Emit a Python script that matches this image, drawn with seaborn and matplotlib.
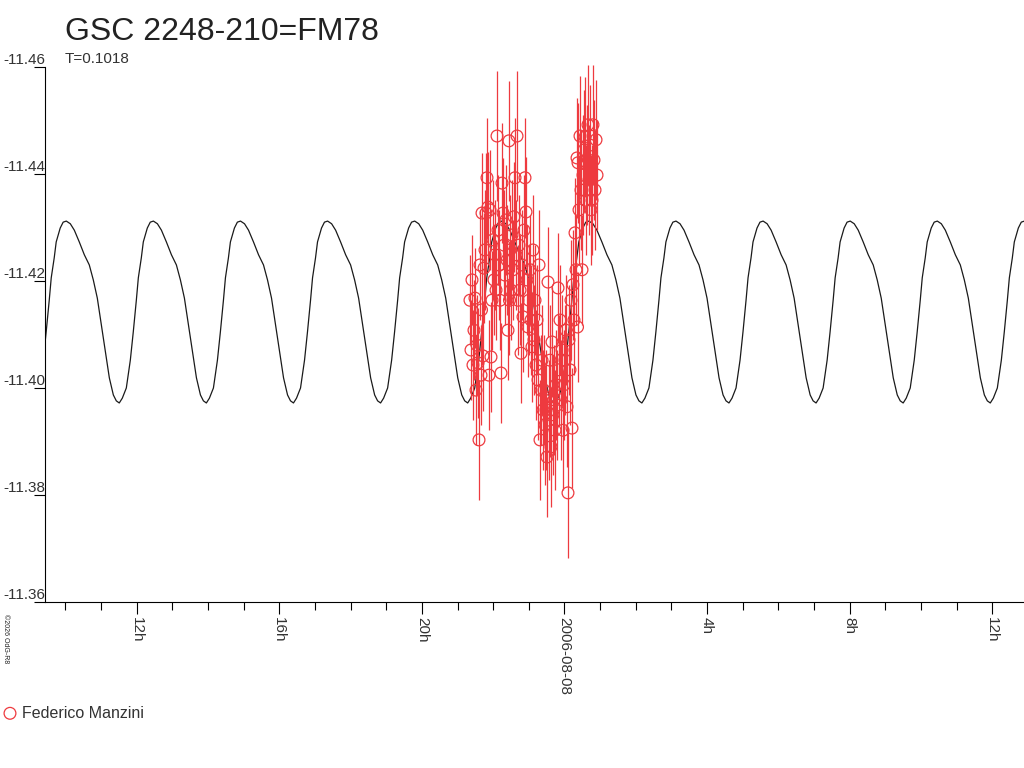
import numpy as np
import pandas as pd
import matplotlib
matplotlib.use("Agg")
import matplotlib.pyplot as plt
from matplotlib.ticker import MultipleLocator, FuncFormatter, FixedLocator
import seaborn as sns

# ---------------- data ----------------
title = "GSC 2248-210=FM78"
period_label = "T=0.1018"
observer = "Federico Manzini"
credit = "\u00a92026 OdG-R8"

period_days = 0.1018
epoch_hours = 3.128          # time of a light maximum (hours from 2006-08-08 00:00)

# one cycle of the model light curve (phase from maximum, magnitude)
model_phase = [0.000, 0.046, 0.092, 0.149, 0.207, 0.264, 0.310, 0.356, 0.402,
               0.448, 0.494, 0.540, 0.574, 0.608, 0.643, 0.689, 0.735, 0.769,
               0.804, 0.827, 0.861, 0.884, 0.930, 0.964]
model_mag = [-11.4312, -11.4307, -11.4295, -11.4273, -11.4249, -11.4230, -11.4202,
             -11.4168, -11.4118, -11.4067, -11.4019, -11.3987, -11.3976, -11.3972,
             -11.3981, -11.4000, -11.4052, -11.4105, -11.4164, -11.4206, -11.4243,
             -11.4273, -11.4299, -11.4310]

# observations: hours from 2006-08-08 00:00, magnitude, error
obs_hours = [-2.651, -2.623, -2.595, -2.567, -2.539, -2.511, -2.482, -2.454, -2.426, -2.398,
             -2.370, -2.342, -2.328, -2.314, -2.286, -2.258, -2.230, -2.202, -2.174, -2.146,
             -2.118, -2.090, -2.062, -2.034, -2.006, -1.978, -1.949, -1.921, -1.893, -1.865,
             -1.837, -1.809, -1.781, -1.753, -1.725, -1.697, -1.669, -1.641, -1.613, -1.585,
             -1.557, -1.543, -1.529, -1.501, -1.473, -1.445, -1.417, -1.388, -1.360, -1.332,
             -1.304, -1.276, -1.248, -1.220, -1.192, -1.164, -1.136, -1.108, -1.080, -1.052,
             -1.024, -0.996, -0.968, -0.940, -0.912, -0.884, -0.856, -0.827, -0.799, -0.771,
             -0.743, -0.715, -0.687, -0.659, -0.631, -0.603, -0.575, -0.547, -0.519, -0.491,
             -0.463, -0.435, -0.407, -0.393, -0.379, -0.351, -0.323, -0.295, -0.266, -0.238,
             -0.210, -0.182, -0.154, -0.126, -0.098, -0.070, -0.042, -0.014, 0.014, 0.042,
             0.070, 0.098, 0.126, 0.154, 0.182, 0.210, 0.238, 0.266, 0.295, 0.323,
             0.351, 0.365, 0.379, 0.407, 0.435, 0.463, 0.491, 0.519, 0.547, 0.575,
             0.603, 0.631, 0.659, 0.687, 0.715, 0.743, 0.771, 0.799, 0.827, 0.856,
             0.884, 0.912]
obs_mag = [-11.4164, -11.4071, -11.4202, -11.4043, -11.4108, -11.4168, -11.3996, -11.4080, -11.4047, -11.3903,
           -11.4230, -11.4024, -11.4146, -11.4327, -11.4060, -11.4224, -11.4258, -11.4327, -11.4393, -11.4338,
           -11.4024, -11.4333, -11.4058, -11.4164, -11.4277, -11.4202, -11.4249, -11.4183, -11.4471, -11.4295,
           -11.4230, -11.4164, -11.4028, -11.4383, -11.4327, -11.4267, -11.4211, -11.4314, -11.4239, -11.4108,
           -11.4462, -11.4164, -11.4258, -11.4183, -11.4286, -11.4221, -11.4320, -11.4393, -11.4249, -11.4471,
           -11.4164, -11.4267, -11.4183, -11.4065, -11.4230, -11.4133, -11.4295, -11.4393, -11.4329, -11.4202,
           -11.4114, -11.4164, -11.4221, -11.4127, -11.4077, -11.4258, -11.4090, -11.4164, -11.4043, -11.4127,
           -11.4015, -11.4230, -11.3903, -11.3996, -11.4052, -11.3959, -11.3996, -11.3931, -11.3959, -11.3871,
           -11.4198, -11.3940, -11.4052, -11.3983, -11.3890, -11.4086, -11.3950, -11.3978, -11.3921, -11.4006,
           -11.3968, -11.4187, -11.4034, -11.4127, -11.3978, -11.4071, -11.3921, -11.4006, -11.4052, -11.4108,
           -11.3965, -11.3804, -11.4090, -11.4034, -11.4164, -11.3925, -11.4193, -11.4127, -11.4290, -11.4221,
           -11.4430, -11.4114, -11.4421, -11.4333, -11.4471, -11.4370, -11.4221, -11.4398, -11.4445, -11.4469,
           -11.4351, -11.4417, -11.4492, -11.4389, -11.4454, -11.4333, -11.4351, -11.4492, -11.4426, -11.4370,
           -11.4464, -11.4398]
obs_err = [0.0084, 0.0093, 0.0084, 0.0103, 0.0093, 0.0093, 0.0103, 0.0093, 0.0103, 0.0112,
           0.0103, 0.0093, 0.0103, 0.0112, 0.0103, 0.0103, 0.0112, 0.0112, 0.0112, 0.0103,
           0.0103, 0.0112, 0.0103, 0.0093, 0.0112, 0.0103, 0.0103, 0.0093, 0.0121, 0.0103,
           0.0103, 0.0093, 0.0093, 0.0112, 0.0103, 0.0103, 0.0093, 0.0103, 0.0103, 0.0093,
           0.0112, 0.0103, 0.0103, 0.0093, 0.0103, 0.0093, 0.0103, 0.0112, 0.0103, 0.0121,
           0.0103, 0.0093, 0.0103, 0.0093, 0.0103, 0.0103, 0.0103, 0.0112, 0.0103, 0.0103,
           0.0093, 0.0103, 0.0103, 0.0103, 0.0103, 0.0103, 0.0103, 0.0103, 0.0103, 0.0103,
           0.0112, 0.0103, 0.0112, 0.0103, 0.0103, 0.0112, 0.0103, 0.0112, 0.0112, 0.0112,
           0.0103, 0.0112, 0.0103, 0.0112, 0.0112, 0.0103, 0.0112, 0.0103, 0.0112, 0.0103,
           0.0103, 0.0103, 0.0103, 0.0103, 0.0112, 0.0103, 0.0112, 0.0103, 0.0103, 0.0103,
           0.0112, 0.0121, 0.0103, 0.0103, 0.0112, 0.0112, 0.0103, 0.0103, 0.0103, 0.0103,
           0.0112, 0.0103, 0.0112, 0.0103, 0.0112, 0.0112, 0.0103, 0.0112, 0.0112, 0.0112,
           0.0103, 0.0112, 0.0112, 0.0103, 0.0112, 0.0103, 0.0103, 0.0112, 0.0112, 0.0112,
           0.0112, 0.0103]

x_range_hours = (-14.572, 12.889)
y_ticks = [-11.46, -11.44, -11.42, -11.40, -11.38, -11.36]
date_label = "2006-08-08"

# ---------------- figure ----------------
sns.set_theme(style="white")
plt.rcParams["font.family"] = ["Liberation Sans", "DejaVu Sans"]
plt.rcParams["axes.unicode_minus"] = False

RED = "#ee3a3f"
TXT = "#333333"

fig = plt.figure(figsize=(10.24, 7.68), dpi=100)
ax = fig.add_axes([45 / 1024, 166 / 768, 979 / 1024, 535 / 768])
ax.set_facecolor("white")

# model curve, repeated over every cycle in view
period_h = period_days * 24
cycles = np.arange(-8, 5)
curve_t = np.concatenate([epoch_hours + (k + np.array(model_phase)) * period_h for k in cycles])
curve_m = np.tile(model_mag, len(cycles))
curve_df = pd.DataFrame({"t": curve_t, "m": curve_m})
sns.lineplot(data=curve_df, x="t", y="m", color="#1a1a1a", linewidth=0.9,
             estimator=None, sort=False, ax=ax, zorder=1)

obs_df = pd.DataFrame({"t": obs_hours, "m": obs_mag, "e": obs_err})
ax.errorbar(obs_df["t"], obs_df["m"], yerr=obs_df["e"], fmt="none",
            ecolor=RED, elinewidth=0.9, capsize=0, zorder=2, clip_on=False)
sns.scatterplot(data=obs_df, x="t", y="m", marker="o", s=72, color=RED,
                facecolor="none", edgecolor=RED, linewidth=0.9,
                ax=ax, zorder=3, label=observer)

# axes
ax.set_xlim(*x_range_hours)
ax.set_ylim(max(y_ticks), min(y_ticks))
ax.set_xlabel("")
ax.set_ylabel("")
for s in ["top", "right"]:
    ax.spines[s].set_visible(False)
for s in ["left", "bottom"]:
    ax.spines[s].set_color("black")
    ax.spines[s].set_linewidth(0.8)

ax.yaxis.set_major_locator(FixedLocator(y_ticks))
ax.yaxis.set_major_formatter(FuncFormatter(lambda v, p: f"{v:.2f}"))
ax.tick_params(axis="y", direction="out", length=8, width=0.8, pad=-8,
               labelsize=11, labelcolor=TXT, color="black", left=True)
for lbl in ax.get_yticklabels():
    lbl.set_verticalalignment("bottom")

def fmt_hour(v, p):
    h = int(round(v)) % 24
    return date_label if h == 0 else f"{h}h"

ax.xaxis.set_major_locator(MultipleLocator(4))
ax.xaxis.set_minor_locator(MultipleLocator(1))
ax.xaxis.set_major_formatter(FuncFormatter(fmt_hour))
ax.tick_params(axis="x", which="major", direction="out", length=8.6, width=0.8,
               pad=2, labelsize=11, labelcolor=TXT, color="black", bottom=True,
               labelrotation=-90)
ax.tick_params(axis="x", which="minor", direction="out", length=5.8, width=0.8,
               color="black", bottom=True)
for lbl in ax.get_xticklabels():
    lbl.set_horizontalalignment("center")
    lbl.set_verticalalignment("top")
ax.grid(False)

# texts
fig.text(65 / 1024, 1 - 40 / 768, title, fontsize=23, color="#222222", va="baseline")
fig.text(65 / 1024, 1 - 63 / 768, period_label, fontsize=11, color=TXT, va="baseline")
fig.text(2 / 1024, 1 - 614 / 768, credit, fontsize=5, color="#222222",
         rotation=-90, va="top", ha="left")

leg = ax.legend(loc="center left", bbox_to_anchor=(2 / 1024, 1 - 713 / 768),
                bbox_transform=fig.transFigure, frameon=False, fontsize=11.5,
                handlelength=1.0, handletextpad=0.25, borderpad=0, borderaxespad=0,
                labelcolor=TXT)

fig.savefig("out.png", dpi=100, facecolor="white")
